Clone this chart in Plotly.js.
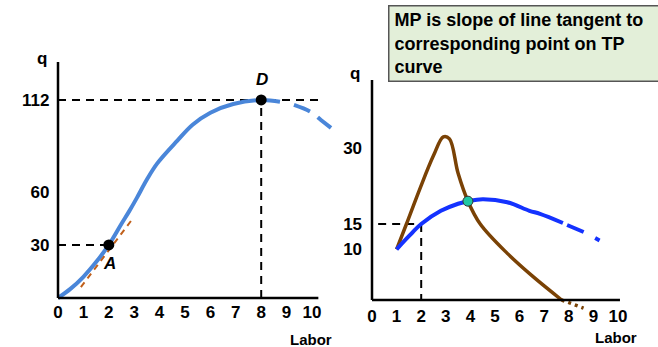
<!DOCTYPE html>
<html>
<head>
<meta charset="utf-8">
<script src="https://cdn.plot.ly/plotly-3.0.1.min.js"></script>
<style>
  html, body { margin: 0; padding: 0; background: #fff; }
  #chart { width: 658px; height: 347px; }
</style>
</head>
<body>
<div id="chart"></div>
<script>
// ---- Total product panel -------------------------------------------------
const laborTicks = [0, 1, 2, 3, 4, 5, 6, 7, 8, 9, 10];
const tpTicks = [30, 60, 112];

// TP curve, solid part then the dashed declining tail
const tpLabor = [0, 0.5, 1, 1.5, 2, 2.5, 2.8, 3.1, 3.5, 3.9, 4.7, 5.3, 6, 6.9, 8, 8.74];
const tpOutput = [0, 5.3, 12, 20.3, 30, 42, 49, 56.5, 67, 76, 89, 98, 104.8, 109.7, 112, 111];
const tpTailLabor = [9.29, 9.96, 10.35, 10.75];
const tpTailOutput = [109.2, 105.2, 100.7, 96.2];

// Labelled points A and D
const tpPointLabor = [2, 8];
const tpPointOutput = [30, 112];
const tpPointNames = ['A', 'D'];

// Tangent line drawn just under A
const tangentLabor = [0.9, 2.95];
const tangentOutput = [6.1, 45.05];

// ---- Marginal / average product panel ------------------------------------
const productTicks = [10, 15, 30];

const mpLabor = [1, 1.4, 1.95, 2.5, 2.9, 3.15, 3.5, 3.9, 4.4, 5.5, 6.5, 7.71];
const mpOutput = [10, 15, 22, 28.5, 32.2, 31.8, 25, 19.5, 15, 9.2, 4.8, 0];
const mpTailLabor = [7.71, 8.6];
const mpTailOutput = [0, -1.6];

const apLabor = [1, 1.5, 2, 2.8, 3.5, 3.9, 4.5, 5.5, 6.4, 6.83, 7.76];
const apOutput = [10, 12.6, 15, 17.6, 19.0, 19.5, 19.9, 19.3, 17.6, 17.0, 15.2];
const apTailLabor = [7.93, 8.61, 9.31];
const apTailOutput = [14.8, 13.4, 11.6];

const crossLabor = [3.9];
const crossOutput = [19.5];
const apGuideLabor = 2;
const apGuideOutput = 15;

// ---- Geometry helpers (pixel placement of the two panels) ----------------
const W = 658, H = 347;
const px = x => x / W;
const py = y => (H - y) / H;

const TP_BLUE = '#4a86d9';
const AP_BLUE = '#1432ff';
const MP_BROWN = '#7a4205';
const TAN_ORANGE = '#c0601c';
const guideDash = '8px,6px';

const FAMILY = 'Liberation Sans, Arial, sans-serif';
const boldFont = { family: FAMILY, size: 17, color: '#000', weight: 'bold' };

// Left panel: labor 0 at x=58px, 25.4px per unit; q 0 at y=298px, 1.768px per unit
const L1 = { x0: 58, xu: 25.4, xr: [-0.3, 11], y0: 298, yu: 1.768, yr: [-3, 135] };
// Right panel: labor 0 at x=372px, 24.6px per unit; q 0 at y=300px, 5.067px per unit
const L2 = { x0: 372, xu: 24.6, xr: [-0.2, 10.2], y0: 300, yu: 5.067, yr: [-2.5, 43.6] };

function domX(p) { return [px(p.x0 + p.xr[0] * p.xu), px(p.x0 + p.xr[1] * p.xu)]; }
function domY(p) { return [py(p.y0 - p.yr[0] * p.yu), py(p.y0 - p.yr[1] * p.yu)]; }

const traces = [
  // guides on the TP panel
  { x: [0, tpPointLabor[0]], y: [tpPointOutput[0], tpPointOutput[0]], xaxis: 'x', yaxis: 'y',
    mode: 'lines', line: { color: '#000', width: 2, dash: guideDash }, hoverinfo: 'skip' },
  { x: [0, 10.4], y: [tpPointOutput[1], tpPointOutput[1]], xaxis: 'x', yaxis: 'y',
    mode: 'lines', line: { color: '#000', width: 2, dash: guideDash }, hoverinfo: 'skip' },
  { x: [tpPointLabor[1], tpPointLabor[1]], y: [0, tpPointOutput[1]], xaxis: 'x', yaxis: 'y',
    mode: 'lines', line: { color: '#000', width: 2, dash: guideDash }, hoverinfo: 'skip' },
  // TP curve
  { x: tpLabor, y: tpOutput, xaxis: 'x', yaxis: 'y', mode: 'lines',
    line: { color: TP_BLUE, width: 4, shape: 'spline' } },
  { x: tpTailLabor, y: tpTailOutput, xaxis: 'x', yaxis: 'y', mode: 'lines',
    line: { color: TP_BLUE, width: 4, shape: 'spline', dash: '17px,10px' } },
  // tangent at A
  { x: tangentLabor, y: tangentOutput, xaxis: 'x', yaxis: 'y',
    mode: 'lines', line: { color: TAN_ORANGE, width: 2, dash: '6px,5px' }, hoverinfo: 'skip' },
  // points A and D
  { x: tpPointLabor, y: tpPointOutput, xaxis: 'x', yaxis: 'y', mode: 'markers',
    marker: { color: '#000', size: 11 }, cliponaxis: false },

  // guides on the product panel
  { x: [0.25, apGuideLabor], y: [apGuideOutput, apGuideOutput], xaxis: 'x2', yaxis: 'y2',
    mode: 'lines', line: { color: '#000', width: 2, dash: guideDash }, hoverinfo: 'skip' },
  { x: [apGuideLabor, apGuideLabor], y: [apGuideOutput, 0], xaxis: 'x2', yaxis: 'y2',
    mode: 'lines', line: { color: '#000', width: 2, dash: guideDash }, hoverinfo: 'skip' },
  // MP curve
  { x: mpLabor, y: mpOutput, xaxis: 'x2', yaxis: 'y2', mode: 'lines',
    line: { color: MP_BROWN, width: 3.5, shape: 'spline' } },
  { x: mpTailLabor, y: mpTailOutput, xaxis: 'x2', yaxis: 'y2', mode: 'lines',
    line: { color: MP_BROWN, width: 3.5, dash: '3px,4px' } },
  // AP curve
  { x: apLabor, y: apOutput, xaxis: 'x2', yaxis: 'y2', mode: 'lines',
    line: { color: AP_BLUE, width: 4, shape: 'spline' } },
  { x: apTailLabor, y: apTailOutput, xaxis: 'x2', yaxis: 'y2', mode: 'lines',
    line: { color: AP_BLUE, width: 4, dash: '18px,13px,5px,40px' } },
  // MP = AP
  { x: crossLabor, y: crossOutput, xaxis: 'x2', yaxis: 'y2', mode: 'markers',
    marker: { color: '#1fc7a4', size: 10, line: { color: '#333', width: 1 } } }
];

function axisX(p, anchor) {
  return {
    domain: domX(p), range: p.xr, anchor: anchor,
    showgrid: false, zeroline: false, showline: false, ticks: '',
    tickvals: laborTicks, ticktext: laborTicks.map(String),
    tickfont: boldFont, fixedrange: true
  };
}
function axisY(p, anchor, vals) {
  return {
    domain: domY(p), range: p.yr, anchor: anchor,
    showgrid: false, zeroline: false, showline: false, ticks: '',
    tickvals: vals, ticktext: vals.map(String),
    tickfont: boldFont, fixedrange: true
  };
}

const xa1 = axisX(L1, 'y');
const ya1 = axisY(L1, 'x', tpTicks);
const xa2 = axisX(L2, 'y2');
const ya2 = axisY(L2, 'x2', productTicks);
ya1.ticklabelstandoff = 0;
ya2.ticklabelstandoff = 4;
xa1.ticklabelstandoff = -3;
xa2.ticklabelstandoff = -9;

const axisLine = { color: '#000', width: 2.5 };
const shapes = [
  { type: 'line', xref: 'x', yref: 'y', x0: 0, x1: 10.25, y0: 0, y1: 0, line: axisLine },
  { type: 'line', xref: 'x', yref: 'y', x0: 0, x1: 0, y0: 0, y1: 133.5, line: axisLine },
  { type: 'line', xref: 'x2', yref: 'y2', x0: 0, x1: 10.08, y0: 0, y1: 0, line: axisLine },
  { type: 'line', xref: 'x2', yref: 'y2', x0: 0, x1: 0, y0: 0, y1: 43.4, line: axisLine },
  // shadow under the note box
  { type: 'rect', xref: 'paper', yref: 'paper', x0: px(390), x1: px(660), y0: py(82), y1: py(7),
    fillcolor: '#8a8a8a', line: { width: 0 }, layer: 'below' }
];

const labelFont = { family: FAMILY, size: 15, color: '#000', weight: 'bold' };
const pointFont = { family: FAMILY, size: 17, color: '#000', weight: 'bold', style: 'italic' };

function paperLabel(text, x, y, font) {
  return { text: text, xref: 'paper', yref: 'paper', x: px(x), y: py(y),
           xanchor: 'center', yanchor: 'middle', showarrow: false, font: font };
}

const annotations = [
  paperLabel('q', 42, 59, boldFont),
  paperLabel('q', 355, 74, boldFont),
  paperLabel('Labor', 311, 339, labelFont),
  paperLabel('Labor', 616, 337, labelFont),
  { text: tpPointNames[0], xref: 'x', yref: 'y', x: tpPointLabor[0], y: tpPointOutput[0],
    xanchor: 'center', yanchor: 'middle', xshift: 1, yshift: -19, showarrow: false, font: pointFont },
  { text: tpPointNames[1], xref: 'x', yref: 'y', x: tpPointLabor[1], y: tpPointOutput[1],
    xanchor: 'center', yanchor: 'middle', xshift: 1, yshift: 20, showarrow: false, font: pointFont },
  { text: 'MP is slope of line tangent to<br>corresponding point on TP<br>curve',
    xref: 'paper', yref: 'paper', x: px(388), y: py(5), xanchor: 'left', yanchor: 'top',
    showarrow: false, align: 'left', valign: 'middle',
    width: 280, height: 64, borderpad: 5,
    bgcolor: '#e3efd9', bordercolor: '#555', borderwidth: 1.5,
    font: { family: FAMILY, size: 18, color: '#000', weight: 'bold' } }
];

const layout = {
  width: W, height: H,
  margin: { l: 0, r: 0, t: 0, b: 0 },
  paper_bgcolor: '#fff', plot_bgcolor: 'rgba(0,0,0,0)',
  showlegend: false,
  xaxis: xa1, yaxis: ya1, xaxis2: xa2, yaxis2: ya2,
  shapes: shapes, annotations: annotations
};

Plotly.newPlot('chart', traces, layout, { displayModeBar: false, staticPlot: true });
</script>
</body>
</html>
